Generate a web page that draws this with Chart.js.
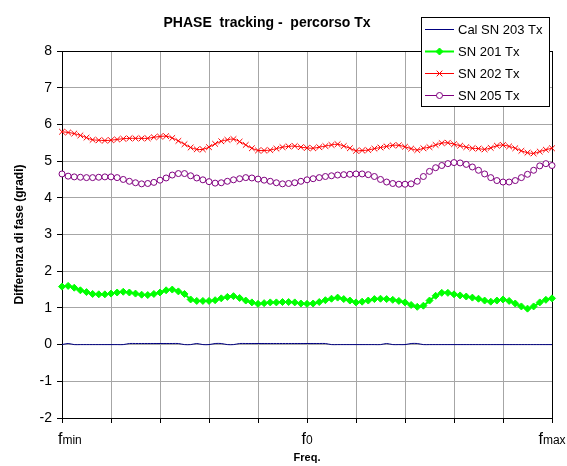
<!DOCTYPE html>
<html>
<head>
<meta charset="utf-8">
<script src="https://cdn.jsdelivr.net/npm/chart.js@4"></script>
<style>
  html, body { margin: 0; padding: 0; background: #fff; }
</style>
</head>
<body>
<canvas id="grafico" width="567" height="466"></canvas>
<script>
// Dati (81 punti di frequenza, da fmin a fmax)
const nomiSerie = ['Cal SN 203 Tx', 'SN 201 Tx', 'SN 202 Tx', 'SN 205 Tx'];

const calSN203 = [
  0, 0.03, 0, 0, 0, 0, 0, 0, 0, 0,
  0, 0.03, 0.03, 0.03, 0.03, 0.03, 0.03, 0.03, 0.03, 0.03,
  0, 0, 0.03, 0, 0, 0.03, 0.03, 0, 0, 0.03,
  0.03, 0.03, 0.03, 0.03, 0.03, 0.03, 0.03, 0.03, 0.03, 0.03,
  0.03, 0.03, 0.03, 0.03, 0, 0, 0, 0, 0, 0,
  0, 0, 0, 0.03, 0, 0, 0, 0.03, 0.03, 0,
  0, 0, 0, 0, 0, 0, 0, 0, 0, 0,
  0, 0, 0, 0, 0, 0, 0, 0, 0, 0,
  0
];

const sn201 = [
  1.58, 1.60, 1.55, 1.48, 1.43, 1.38, 1.37, 1.37, 1.39, 1.42,
  1.44, 1.42, 1.39, 1.36, 1.35, 1.38, 1.42, 1.48, 1.50, 1.45,
  1.38, 1.23, 1.19, 1.19, 1.19, 1.21, 1.26, 1.30, 1.32, 1.27,
  1.20, 1.15, 1.11, 1.13, 1.15, 1.15, 1.16, 1.16, 1.15, 1.12,
  1.11, 1.12, 1.16, 1.21, 1.25, 1.28, 1.24, 1.20, 1.15, 1.17,
  1.20, 1.24, 1.25, 1.24, 1.22, 1.19, 1.15, 1.08, 1.03, 1.06,
  1.20, 1.33, 1.41, 1.41, 1.37, 1.34, 1.31, 1.28, 1.25, 1.20,
  1.17, 1.20, 1.23, 1.19, 1.12, 1.04, 0.98, 1.04, 1.15, 1.22,
  1.26
];

const sn202 = [
  5.80, 5.78, 5.75, 5.70, 5.64, 5.58, 5.57, 5.56, 5.57, 5.59,
  5.61, 5.62, 5.62, 5.62, 5.62, 5.65, 5.67, 5.68, 5.63, 5.55,
  5.46, 5.37, 5.32, 5.32, 5.38, 5.47, 5.54, 5.58, 5.60, 5.53,
  5.44, 5.35, 5.29, 5.29, 5.30, 5.34, 5.38, 5.40, 5.41, 5.38,
  5.36, 5.35, 5.38, 5.41, 5.44, 5.46, 5.41, 5.35, 5.28, 5.29,
  5.30, 5.34, 5.37, 5.40, 5.43, 5.43, 5.39, 5.34, 5.30, 5.35,
  5.38, 5.44, 5.49, 5.50, 5.46, 5.42, 5.38, 5.35, 5.34, 5.32,
  5.36, 5.42, 5.44, 5.40, 5.35, 5.28, 5.23, 5.21, 5.26, 5.31,
  5.35
];

const sn205 = [
  4.65, 4.59, 4.57, 4.56, 4.55, 4.55, 4.56, 4.57, 4.57, 4.55,
  4.50, 4.45, 4.41, 4.38, 4.39, 4.42, 4.48, 4.54, 4.62, 4.66,
  4.66, 4.60, 4.54, 4.49, 4.44, 4.40, 4.41, 4.45, 4.49, 4.52,
  4.55, 4.54, 4.51, 4.48, 4.45, 4.41, 4.38, 4.39, 4.41, 4.45,
  4.49, 4.52, 4.55, 4.58, 4.60, 4.62, 4.63, 4.64, 4.65, 4.65,
  4.63, 4.58, 4.50, 4.43, 4.39, 4.37, 4.37, 4.38, 4.45, 4.58,
  4.72, 4.82, 4.88, 4.93, 4.96, 4.95, 4.91, 4.84, 4.75, 4.65,
  4.55, 4.47, 4.43, 4.43, 4.47, 4.55, 4.64, 4.75, 4.87, 4.93,
  4.88
];

// etichette dell'asse x: "f" con pedice
const xTickPos = [0, 40, 80];
const xTickSub = ['min', '0', 'max'];

const punti = arr => arr.map((v, i) => ({ x: i, y: v }));

// titolo del grafico
const titoloPlugin = {
  id: 'titolo',
  afterDraw(chart) {
    const ctx = chart.ctx;
    ctx.save();
    ctx.font = 'bold 14px Arial, "Liberation Sans", sans-serif';
    ctx.fillStyle = '#000';
    ctx.textAlign = 'center';
    ctx.textBaseline = 'middle';
    ctx.fillText('PHASE  tracking -  percorso Tx', 267, 23);
    ctx.restore();
  }
};

// bordo superiore e destro dell'area del grafico
const bordoPlugin = {
  id: 'bordo',
  beforeDatasetsDraw(chart) {
    const { ctx, chartArea: a } = chart;
    ctx.save();
    ctx.strokeStyle = '#000';
    ctx.lineWidth = 1;
    ctx.strokeRect(a.left + 0.5, a.top + 0.5, a.right - a.left, a.bottom - a.top);
    ctx.restore();
  }
};

// etichette fmin, f0, fmax
const tickFreqPlugin = {
  id: 'tickFreq',
  afterDraw(chart) {
    const ctx = chart.ctx;
    const sx = chart.scales.x;
    const y = sx.top + 26;
    ctx.save();
    ctx.fillStyle = '#000';
    ctx.textBaseline = 'alphabetic';
    ctx.textAlign = 'left';
    xTickPos.forEach((v, i) => {
      const px = sx.getPixelForValue(v);
      ctx.font = '16px Arial, "Liberation Sans", sans-serif';
      const wf = ctx.measureText('f').width;
      ctx.font = '12px Arial, "Liberation Sans", sans-serif';
      const ws = ctx.measureText(xTickSub[i]).width;
      let x0 = px - (wf + ws) / 2;
      if (x0 < 58) x0 = 58;
      ctx.font = '16px Arial, "Liberation Sans", sans-serif';
      ctx.fillText('f', x0, y);
      ctx.font = '12px Arial, "Liberation Sans", sans-serif';
      ctx.fillText(xTickSub[i], x0 + wf, y);
    });
    ctx.restore();
  }
};

// legenda sovrapposta all'area del grafico
const legendaPlugin = {
  id: 'legenda',
  afterDraw(chart) {
    const ctx = chart.ctx;
    const bx = 421, by = 17, bw = 128, bh = 89;
    ctx.save();
    ctx.fillStyle = '#fff';
    ctx.fillRect(bx, by, bw, bh);
    ctx.strokeStyle = '#000';
    ctx.lineWidth = 1;
    ctx.strokeRect(bx + 0.5, by + 0.5, bw, bh);
    const righe = [29, 51, 73, 95];
    chart.data.datasets.forEach((ds, i) => {
      const y = righe[i];
      ctx.strokeStyle = ds.borderColor;
      ctx.lineWidth = ds.borderWidth;
      ctx.beginPath();
      ctx.moveTo(425, y + 0.5);
      ctx.lineTo(454, y + 0.5);
      ctx.stroke();
      if (ds.pointRadius > 0) {
        ctx.fillStyle = ds.pointBackgroundColor;
        ctx.strokeStyle = ds.borderColor;
        ctx.lineWidth = ds.pointBorderWidth;
        Chart.helpers.drawPoint(ctx, {
          pointStyle: ds.pointStyle, radius: ds.pointRadius,
          borderWidth: ds.pointBorderWidth, rotation: 0
        }, 439.5, y + 0.5);
      }
      ctx.fillStyle = '#000';
      ctx.font = '13px Arial, "Liberation Sans", sans-serif';
      ctx.textAlign = 'left';
      ctx.textBaseline = 'middle';
      ctx.fillText(ds.label, 458, y + 1);
    });
    ctx.restore();
  }
};

new Chart(document.getElementById('grafico'), {
  type: 'line',
  data: {
    datasets: [
      {
        label: nomiSerie[0], data: punti(calSN203),
        borderColor: '#000080', borderWidth: 1,
        pointRadius: 0, pointBorderWidth: 0, pointBackgroundColor: '#000080',
        order: 4
      },
      {
        label: nomiSerie[1], data: punti(sn201),
        borderColor: '#00ff00', borderWidth: 2,
        pointStyle: 'rectRot', pointRadius: 3.5, pointBorderWidth: 1,
        pointBackgroundColor: '#00ff00',
        order: 3
      },
      {
        label: nomiSerie[2], data: punti(sn202),
        borderColor: '#ff0000', borderWidth: 1,
        pointStyle: 'crossRot', pointRadius: 4, pointBorderWidth: 1,
        pointBackgroundColor: '#ff0000',
        order: 2
      },
      {
        label: nomiSerie[3], data: punti(sn205),
        borderColor: '#800080', borderWidth: 1,
        pointStyle: 'circle', pointRadius: 3, pointBorderWidth: 1,
        pointBackgroundColor: '#ffffff',
        order: 1
      }
    ]
  },
  options: {
    responsive: false,
    animation: false,
    devicePixelRatio: 1,
    clip: false,
    layout: { padding: { top: 51, right: 15, left: 0, bottom: 0 } },
    elements: { line: { tension: 0.3 } },
    plugins: { legend: { display: false }, tooltip: { enabled: false } },
    scales: {
      x: {
        type: 'linear', min: 0, max: 80,
        ticks: { stepSize: 8, display: false },
        grid: { color: '#a6a6a6', tickColor: '#000', tickLength: 5 },
        border: { color: '#000', width: 1 },
        title: {
          display: true, text: 'Freq.',
          font: { family: 'Arial, "Liberation Sans", sans-serif', size: 11, weight: 'bold' },
          color: '#000', padding: { top: 0, bottom: 1 }
        },
        afterFit: s => { s.height = 48; }
      },
      y: {
        min: -2, max: 8,
        ticks: {
          stepSize: 1, padding: 5, color: '#000',
          font: { family: 'Arial, "Liberation Sans", sans-serif', size: 14 }
        },
        grid: { color: '#a6a6a6', tickColor: '#000', tickLength: 5 },
        border: { color: '#000', width: 1 },
        title: {
          display: true, text: 'Differenza di fase (gradi)',
          font: { family: 'Arial, "Liberation Sans", sans-serif', size: 12, weight: 'bold' },
          color: '#000', padding: { top: 12, bottom: 0 }
        },
        afterFit: s => { s.width = 62; }
      }
    }
  },
  plugins: [bordoPlugin, titoloPlugin, tickFreqPlugin, legendaPlugin]
});
</script>
</body>
</html>
